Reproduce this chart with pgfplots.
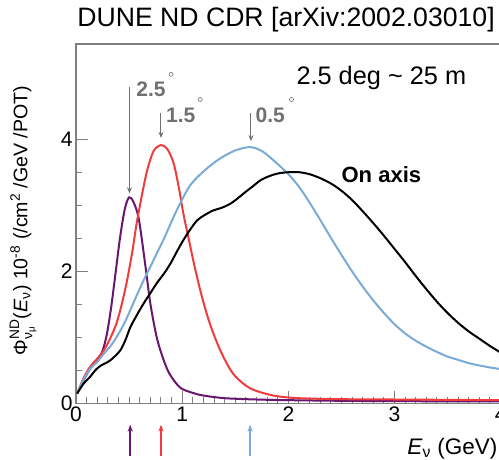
\documentclass[border=0pt]{standalone}
\usepackage{fontspec}
\setmainfont{Liberation Sans}
\usepackage{amsmath}
\usepackage{pgfplots}
\usepackage{pgfplotstable}
\pgfplotsset{compat=1.18}
\usetikzlibrary{arrows.meta}

\definecolor{offA}{RGB}{105,22,112}   % 2.5 deg off axis
\definecolor{offB}{RGB}{240,60,60}    % 1.5 deg off axis
\definecolor{offC}{RGB}{122,170,214}  % 0.5 deg off axis
\definecolor{annot}{RGB}{112,112,112}
\definecolor{framegray}{RGB}{128,128,128}

% numu flux at the near detector, 1e-8 /cm^2/GeV/POT
\pgfplotstableread{
E phi
0.01 0.15
0.07 0.35
0.13 0.52
0.20 0.66
0.25 0.80
0.29 1.05
0.33 1.45
0.37 1.95
0.415 2.52
0.46 2.95
0.50 3.12
0.54 3.05
0.59 2.80
0.65 2.12
0.70 1.51
0.76 1.00
0.82 0.68
0.88 0.45
0.98 0.24
1.10 0.16
1.20 0.12
1.40 0.08
1.70 0.06
2.00 0.05
2.50 0.04
3.00 0.035
4.00 0.03
}\fluxA

\pgfplotstableread{
E phi
0.01 0.15
0.07 0.38
0.13 0.55
0.20 0.68
0.26 0.80
0.32 0.98
0.38 1.21
0.43 1.50
0.48 1.86
0.53 2.30
0.57 2.72
0.62 3.15
0.67 3.53
0.73 3.82
0.80 3.91
0.86 3.85
0.92 3.63
0.97 3.25
1.01 2.88
1.06 2.50
1.11 2.12
1.18 1.65
1.26 1.21
1.36 0.80
1.48 0.45
1.64 0.23
1.86 0.12
2.10 0.08
2.50 0.065
3.00 0.06
4.00 0.05
}\fluxB

\pgfplotstableread{
E phi
0.01 0.15
0.07 0.36
0.13 0.52
0.20 0.63
0.26 0.75
0.32 0.86
0.38 1.00
0.45 1.20
0.51 1.41
0.57 1.63
0.635 1.86
0.70 2.07
0.76 2.27
0.83 2.50
0.89 2.72
0.95 2.93
1.01 3.12
1.07 3.29
1.14 3.42
1.25 3.58
1.36 3.71
1.50 3.83
1.64 3.88
1.75 3.82
1.86 3.68
2.00 3.47
2.10 3.28
2.20 3.04
2.30 2.78
2.40 2.51
2.50 2.25
2.60 2.00
2.70 1.77
2.80 1.56
2.90 1.37
3.00 1.20
3.10 1.06
3.20 0.95
3.30 0.86
3.40 0.78
3.50 0.71
3.60 0.66
3.70 0.61
3.80 0.575
3.90 0.545
4.00 0.52
}\fluxC

\pgfplotstableread{
E phi
0.01 0.15
0.07 0.30
0.13 0.40
0.18 0.50
0.23 0.57
0.32 0.65
0.415 0.80
0.47 0.98
0.51 1.15
0.57 1.33
0.635 1.51
0.70 1.67
0.76 1.82
0.83 1.97
0.89 2.12
0.95 2.30
1.01 2.47
1.07 2.62
1.14 2.77
1.21 2.85
1.29 2.92
1.37 2.96
1.45 3.02
1.52 3.10
1.58 3.18
1.66 3.28
1.74 3.38
1.82 3.44
1.90 3.48
2.00 3.50
2.10 3.50
2.20 3.47
2.30 3.41
2.40 3.33
2.50 3.22
2.60 3.08
2.70 2.91
2.80 2.73
2.90 2.54
3.00 2.34
3.10 2.14
3.20 1.93
3.30 1.73
3.40 1.54
3.50 1.37
3.60 1.22
3.70 1.09
3.80 0.98
3.90 0.87
4.00 0.77
}\fluxOn

\begin{document}
\begin{tikzpicture}
\begin{axis}[
  x=106bp, y=66bp,
  xmin=0, xmax=4, ymin=0, ymax=5.44,
  axis line style={framegray, line width=1.2bp},
  xtick={0,1,2,3,4}, ytick={0,2,4},
  minor x tick num=9, minor y tick num=3,
  xtick pos=lower, ytick pos=left,
  tick align=inside,
  major tick length=12bp, minor tick length=6bp,
  tick style={framegray, line width=1bp},
  tick label style={font=\fontsize{21bp}{24bp}\selectfont},
  /pgf/number format/assume math mode=true,
  clip mode=individual,
  every axis plot/.append style={line width=2bp, smooth},
]
\addplot[offA] table[x=E, y=phi] {\fluxA};
\addplot[offB] table[x=E, y=phi] {\fluxB};
\addplot[offC] table[x=E, y=phi] {\fluxC};
\addplot[black] table[x=E, y=phi] {\fluxOn};

% title and texts
\node[anchor=base west, font=\fontsize{26.6bp}{30bp}\selectfont, inner sep=0pt]
  at (axis cs:0.01,5.70) {DUNE ND CDR [arXiv:2002.03010]};
\node[anchor=base west, font=\fontsize{25.3bp}{30bp}\selectfont, inner sep=0pt]
  at (axis cs:2.075,4.82) {2.5 deg \char`\~{} 25 m};
\node[anchor=base west, font=\bfseries\fontsize{22bp}{26bp}\selectfont, inner sep=0pt]
  at (axis cs:2.50,3.35) {On axis};

% off-axis angle markers
\begin{scope}[annot, line width=1bp, -{Stealth[length=6bp,width=5bp]}]
  \draw (axis cs:0.503,4.79) -- (axis cs:0.503,3.18);
  \draw (axis cs:0.800,4.39) -- (axis cs:0.800,4.02);
  \draw (axis cs:1.648,4.39) -- (axis cs:1.648,3.97);
\end{scope}
\begin{scope}[font=\bfseries\fontsize{21bp}{24bp}\selectfont, annot]
  \node[anchor=base west, inner sep=0pt] at (axis cs:0.566,4.64) {2.5};
  \node[anchor=base west, inner sep=0pt] at (axis cs:0.846,4.25) {1.5};
  \node[anchor=base west, inner sep=0pt] at (axis cs:1.690,4.25) {0.5};
\end{scope}
\draw[annot, line width=0.6bp] (axis cs:0.895,4.98) circle[radius=2bp];
\draw[annot, line width=0.6bp] (axis cs:1.17,4.60) circle[radius=2bp];
\draw[annot, line width=0.6bp] (axis cs:2.03,4.60) circle[radius=2bp];

% peak energies below the axis
\draw[offA, line width=1.6bp, -{Stealth[length=7bp,width=5bp]}] (axis cs:0.51,-0.79) -- (axis cs:0.51,-0.32);
\draw[offB, line width=1.6bp, -{Stealth[length=7bp,width=5bp]}] (axis cs:0.80,-0.79) -- (axis cs:0.80,-0.32);
\draw[offC, line width=1.6bp, -{Stealth[length=7bp,width=5bp]}] (axis cs:1.64,-0.79) -- (axis cs:1.64,-0.32);

% axis labels
\node[anchor=base west, font=\fontsize{22.5bp}{26bp}\selectfont, inner sep=0pt]
  at (axis cs:3.12,-0.77) {\textit{E}\textsubscript{ν} (GeV)};
\node[rotate=90, anchor=base, font=\fontsize{19.6bp}{24bp}\selectfont, inner sep=0pt]
  at (axis cs:-0.46,2.77)
  {$\text{Φ}^{\text{ND}}_{\text{ν}_{\text{μ}}}$(\textit{E}\textsubscript{ν}) 10\textsuperscript{-8} (/cm\textsuperscript{2} /GeV /POT)};

\coordinate (bbsw) at (axis cs:-0.717,-0.848);
\coordinate (bbne) at (axis cs:3.985,6.106);
\end{axis}
\pgfresetboundingbox
\useasboundingbox (bbsw) rectangle (bbne);
\end{tikzpicture}
\end{document}
